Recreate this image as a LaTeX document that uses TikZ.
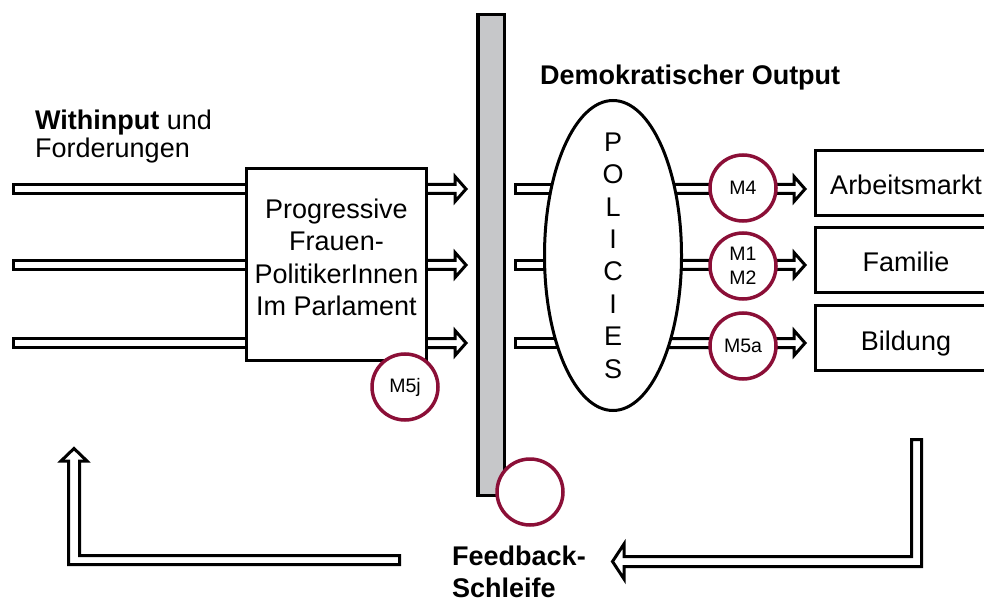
\documentclass[tikz,border=0pt]{standalone}
\usepackage{fontspec}
\setmainfont{Liberation Sans}
\usetikzlibrary{calc,shapes.geometric,backgrounds}

\definecolor{weinrot}{RGB}{139,15,55}
\definecolor{balkengrau}{RGB}{198,199,201}

\tikzset{
  schrift/.style={font=\fontsize{27}{32.4}\selectfont},
  fett/.style={font=\fontsize{27}{32}\selectfont\bfseries},
  feld/.style={draw, line width=3pt, minimum width=181pt, minimum height=65pt,
    inner sep=0pt, text height=24pt, text depth=0pt, schrift},
  massnahme/.style={circle, draw=weinrot, line width=3.5pt, fill=white, minimum size=66pt,
    inner sep=0pt, align=center, font=\fontsize{19.5}{23.5}\selectfont},
  hohl/.style={draw, line width=3pt, fill=white, line join=miter},
}

% hohler Pfeil, am Anfang offen
\newcommand{\hohlpfeil}[2]{%
  \draw[hohl] ($(#1)+(0,-4.5)$) -- ($(#2)+(-11,-4.5)$) -- ($(#2)+(-11,-12.5)$) -- (#2)
    -- ($(#2)+(-11,12.5)$) -- ($(#2)+(-11,4.5)$) -- ($(#1)+(0,4.5)$);}
% hohler Balken, am Anfang geschlossen
\newcommand{\hohlbalken}[2]{%
  \draw[hohl] ($(#2)+(0,-4.5)$) -- ($(#1)+(0,-4.5)$) -- ($(#1)+(0,4.5)$) -- ($(#2)+(0,4.5)$);}

\begin{document}
\begin{tikzpicture}[x=1pt, y=-1pt]
  \useasboundingbox (0,0) rectangle (984,601);

  \node[draw, line width=3.5pt, fill=balkengrau, minimum width=26.5pt, minimum height=480.5pt,
    inner sep=0pt] (balken) at (491,255) {};

  \node[draw, line width=3pt, minimum width=180pt, minimum height=192pt, inner sep=0pt] (prog) at (336.5,264.5) {};
  \node[schrift, align=center, inner sep=0pt] (progtext) at (336.5,257.5) {Progressive\\Frauen-\\PolitikerInnen\\Im Parlament};

  \node[ellipse, draw, line width=3pt, fill=white, minimum width=137pt, minimum height=310pt,
    inner sep=0pt] (pol) at (613,255.5) {};
  \node[schrift, align=center, inner sep=0pt] (poltext) at (pol) {P\\O\\L\\I\\C\\I\\E\\S};

  \node[feld] (arbeit) at (906,183) {Arbeitsmarkt};
  \node[feld] (familie) at (906,260) {Familie};
  \node[feld] (bildung) at (906,338) {Bildung};

  \node[massnahme] (m5j) at (405,387) {M5j};
  \node[massnahme] (schleifekreis) at (530,492) {};
  \node[massnahme] (m4) at (743,188) {M4};
  \node[massnahme] (m12) at (743,266) {M1\\M2};
  \node[massnahme] (m5a) at (743,346) {M5a};

  \node[fett, anchor=base west, inner sep=0pt] (output) at (540,85) {Demokratischer Output};
  \node[font=\fontsize{27}{27.5}\selectfont, anchor=north west, align=left, inner sep=0pt]
    (input) at (35,110) {\textbf{Withinput} und\\Forderungen};
  \node[fett, anchor=north west, align=left, inner sep=0pt] (schleife) at (452,545.5) {Feedback-\\Schleife};

  \begin{scope}[on background layer]
    \foreach \y [count=\i] in {189,265,343} {
      \coordinate (links\i) at (13.5,\y);
      \coordinate (progein\i) at (prog.west |- links\i);
      \coordinate (progaus\i) at (prog.east |- links\i);
      \coordinate (spitze\i) at ($(balken.west |- links\i)+(-10,0)$);
      \coordinate (mitte\i) at (515.5,\y);
      \coordinate (polmitte\i) at (pol.center |- links\i);
      \coordinate (ziel\i) at ($(arbeit.west |- links\i)+(-9,0)$);
      \hohlbalken{links\i}{progein\i}
      \hohlpfeil{progaus\i}{spitze\i}
      \hohlbalken{mitte\i}{polmitte\i}
      \hohlpfeil{polmitte\i}{ziel\i}
    }
  \end{scope}

  % Rueckkopplung
  \draw[hohl] (911.5,439.5) -- (921.5,439.5) -- (921.5,566.5) -- (624,566.5) -- (624,579)
    -- (612.5,561.5) -- (624,544) -- (624,556.5) -- (911.5,556.5) -- cycle;
  \draw[hohl] (399.5,555.5) -- (79.5,555.5) -- (79.5,461) -- (87,461) -- (74,448.5)
    -- (61,461) -- (68.5,461) -- (68.5,564.5) -- (399.5,564.5) -- cycle;
\end{tikzpicture}
\end{document}
